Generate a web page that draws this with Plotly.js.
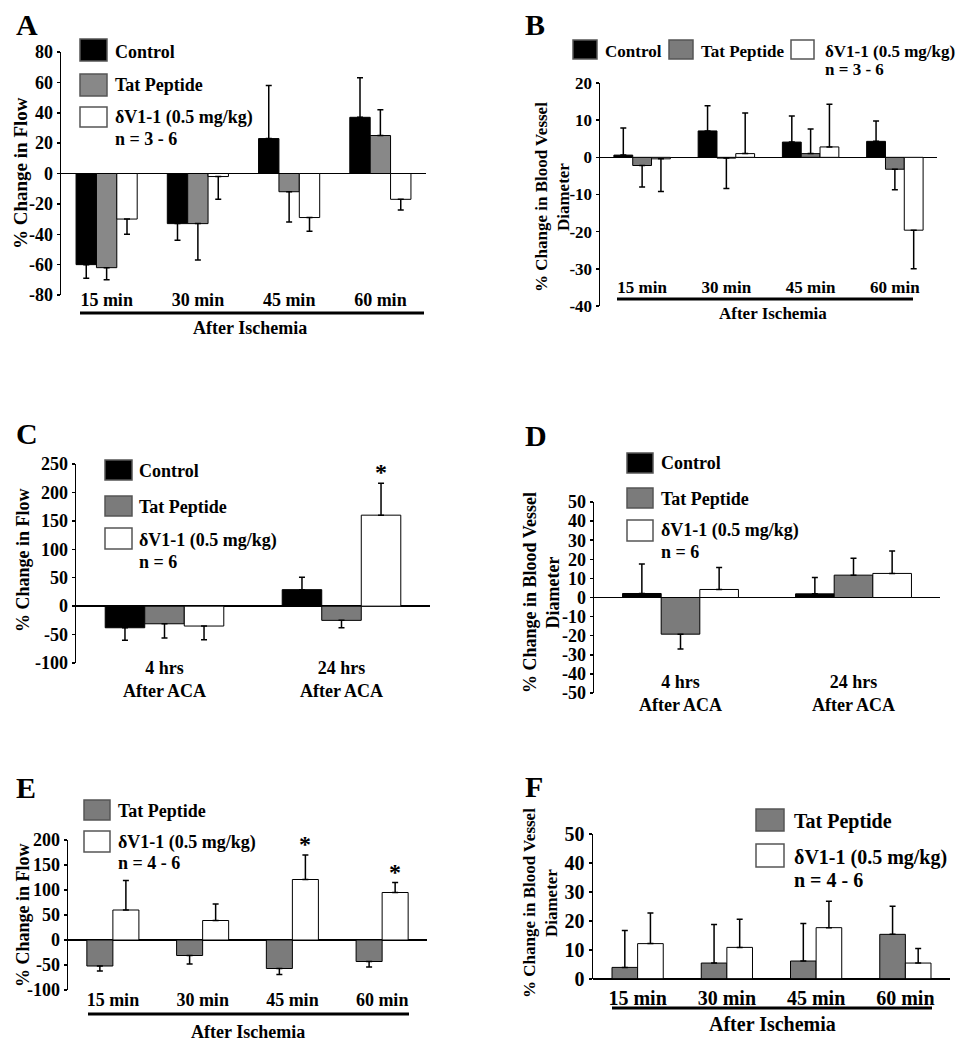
<!DOCTYPE html>
<html><head><meta charset="utf-8">
<script src="https://cdn.plot.ly/plotly-3.0.1.min.js"></script>
<style>body{margin:0;background:#fff}</style>
</head><body><div id="chart" style="width:968px;height:1050px"></div>
<script>
// ---------- DATA ----------
const minLabels = ['15 min', '30 min', '45 min', '60 min'];
const acaLabels = ['4 hrs<br>After ACA', '24 hrs<br>After ACA'];
const seriesNames = ['Control', 'Tat Peptide', 'δV1-1 (0.5 mg/kg)'];
const nTexts = ['n = 3 - 6', 'n = 3 - 6', 'n = 6', 'n = 6', 'n = 4 - 6', 'n = 4 - 6'];
const xTitle = 'After Ischemia';
const flowTitle = '% Change in Flow';
const diamTitle = '% Change in Blood Vessel<br>Diameter';

// Panel A: % change in flow after ischemia
const aControl = [-60, -33, 23, 37];
const aControlErr = [9, 11, 35, 26];
const aTat = [-62, -33, -12, 25];
const aTatErr = [8, 24, 20, 17];
const aDV = [-30, -2, -29, -17];
const aDVErr = [10, 15, 9, 7];
const aTicks = [-80, -60, -40, -20, 0, 20, 40, 60, 80];

// Panel B: % change in vessel diameter after ischemia
const bControl = [0.6, 7.1, 4.1, 4.3];
const bControlErr = [7.3, 6.8, 7.0, 5.5];
const bTat = [-2.2, -0.2, 1.0, -3.2];
const bTatErr = [5.8, 8.2, 6.6, 5.5];
const bDV = [-0.4, 1.0, 2.8, -19.6];
const bDVErr = [8.8, 10.9, 11.5, 10.4];
const bTicks = [-40, -30, -20, -10, 0, 10, 20];

// Panel C: % change in flow after ACA
const cControl = [-38, 29];
const cControlErr = [22, 22];
const cTat = [-31, -25];
const cTatErr = [25, 13];
const cDV = [-35, 160];
const cDVErr = [24, 56];
const cStars = ['', '*'];
const cTicks = [-100, -50, 0, 50, 100, 150, 200, 250];

// Panel D: % change in vessel diameter after ACA
const dControl = [2.1, 1.9];
const dControlErr = [15.4, 8.6];
const dTat = [-19.2, 11.7];
const dTatErr = [7.8, 8.9];
const dDV = [4.2, 12.6];
const dDVErr = [11.5, 11.7];
const dTicks = [-50, -40, -30, -20, -10, 0, 10, 20, 30, 40, 50];

// Panel E: % change in flow after ischemia
const eTat = [-52, -31, -57, -43];
const eTatErr = [10, 17, 12, 11];
const eDV = [60, 39, 121, 95];
const eDVErr = [59, 33, 49, 20];
const eStars = ['', '', '*', '*'];
const eTicks = [-100, -50, 0, 50, 100, 150, 200];

// Panel F: % change in vessel diameter after ischemia
const fTat = [4.0, 5.5, 6.2, 15.4];
const fTatErr = [12.7, 13.3, 12.9, 9.7];
const fDV = [12.2, 10.9, 17.7, 5.5];
const fDVErr = [10.6, 9.7, 9.1, 5.0];
const fTicks = [0, 10, 20, 30, 40, 50];

// ---------- STYLE / HELPERS ----------
const W = 968, H = 1050;
const FONT = 'Liberation Serif, Times New Roman, serif';
const px = x => x / W;
const py = y => 1 - y / H;
const BLACK = '#000000', WHITE = '#ffffff';
const GRAY_A = '#888888', GRAY = '#7b7b7b';

function errY(v, e) {
  return {
    type: 'data', symmetric: false, visible: true,
    array: v.map((x, i) => x >= 0 ? e[i] : 0),
    arrayminus: v.map((x, i) => x < 0 ? e[i] : 0),
    color: BLACK, thickness: 1.5, width: 3
  };
}
function bar(cats, v, e, color, name, xa, ya, extra) {
  return Object.assign({
    type: 'bar', x: cats, y: v, name: name, xaxis: xa, yaxis: ya,
    marker: { color: color, line: { color: BLACK, width: 1 } },
    error_y: errY(v, e), showlegend: false, hoverinfo: 'skip'
  }, extra || {});
}
function xAx(x0, x1, pos, cats, size) {
  return {
    domain: [px(x0), px(x1)], anchor: 'free', position: py(pos),
    type: 'category', categoryorder: 'array', categoryarray: cats,
    range: [-0.5, cats.length - 0.5],
    showline: false, showgrid: false, zeroline: false, ticks: '',
    tickfont: { family: FONT, size: size, color: BLACK, weight: 'bold' },
    fixedrange: true
  };
}
function yAx(top, bottom, range, ticks, xa, size) {
  return {
    domain: [py(bottom), py(top)], anchor: xa, range: range,
    tickmode: 'array', tickvals: ticks, ticktext: ticks.map(String),
    showline: true, linecolor: BLACK, linewidth: 1.5,
    ticks: 'outside', ticklen: 3, tickwidth: 1.5, tickcolor: BLACK,
    showgrid: false, zeroline: true, zerolinecolor: BLACK, zerolinewidth: 1.5,
    tickfont: { family: FONT, size: size, color: BLACK, weight: 'bold' },
    fixedrange: true
  };
}

const traces = [
  bar(minLabels, aControl, aControlErr, BLACK, seriesNames[0], 'x', 'y'),
  bar(minLabels, aTat, aTatErr, GRAY_A, seriesNames[1], 'x', 'y'),
  bar(minLabels, aDV, aDVErr, WHITE, seriesNames[2], 'x', 'y'),
  bar(minLabels, bControl, bControlErr, BLACK, seriesNames[0], 'x2', 'y2'),
  bar(minLabels, bTat, bTatErr, GRAY, seriesNames[1], 'x2', 'y2'),
  bar(minLabels, bDV, bDVErr, WHITE, seriesNames[2], 'x2', 'y2'),
  bar(acaLabels, cControl, cControlErr, BLACK, seriesNames[0], 'x3', 'y3'),
  bar(acaLabels, cTat, cTatErr, GRAY, seriesNames[1], 'x3', 'y3'),
  bar(acaLabels, cDV, cDVErr, WHITE, seriesNames[2], 'x3', 'y3'),
  bar(acaLabels, dControl, dControlErr, BLACK, seriesNames[0], 'x4', 'y4'),
  bar(acaLabels, dTat, dTatErr, GRAY, seriesNames[1], 'x4', 'y4'),
  bar(acaLabels, dDV, dDVErr, WHITE, seriesNames[2], 'x4', 'y4'),
  bar(minLabels, eTat, eTatErr, GRAY, seriesNames[1], 'x5', 'y5', { width: 0.29, offset: -0.29 }),
  bar(minLabels, eDV, eDVErr, WHITE, seriesNames[2], 'x5', 'y5', { width: 0.29, offset: 0 }),
  bar(minLabels, fTat, fTatErr, GRAY, seriesNames[1], 'x6', 'y6', { width: 0.287, offset: -0.287 }),
  bar(minLabels, fDV, fDVErr, WHITE, seriesNames[2], 'x6', 'y6', { width: 0.287, offset: 0 })
];

const shapes = [];
const annotations = [];
function txt(text, x, y, size, opts) {
  annotations.push(Object.assign({
    text: text, xref: 'paper', yref: 'paper', x: px(x), y: py(y),
    xanchor: 'left', yanchor: 'middle', showarrow: false,
    font: { family: FONT, size: size, color: BLACK, weight: 'bold' }
  }, opts || {}));
}
function swatch(x0, y0, x1, y1, color) {
  shapes.push({ type: 'rect', xref: 'paper', yref: 'paper',
    x0: px(x0), x1: px(x1), y0: py(y1), y1: py(y0),
    fillcolor: color, line: { color: '#555555', width: 1.5 } });
}
function hline(x0, x1, y, w) {
  shapes.push({ type: 'line', xref: 'paper', yref: 'paper',
    x0: px(x0), x1: px(x1), y0: py(y), y1: py(y), line: { color: BLACK, width: w } });
}
function letter(t, x, y) { txt(t, x, y, 30, { xanchor: 'center' }); }
function ytitle(t, x, y, size) { txt(t, x, y, size, { xanchor: 'center', textangle: -90, align: 'center' }); }

// Panel letters
letter('A', 27, 24); letter('B', 535, 24); letter('C', 27, 433);
letter('D', 536, 435); letter('E', 26, 787); letter('F', 534, 786);

// Y titles
ytitle(flowTitle, 20, 173, 19);
ytitle(diamTitle, 553, 197, 17);
ytitle(flowTitle, 23, 560, 18);
ytitle(diamTitle, 541, 593, 18);
ytitle(flowTitle, 23, 915, 18);
ytitle(diamTitle, 540, 903, 17);

// "After Ischemia" underlines + labels
hline(80, 424, 313, 3); txt(xTitle, 250, 328, 18, { xanchor: 'center' });
hline(617, 913, 299, 3); txt(xTitle, 773, 314, 17, { xanchor: 'center' });
hline(88, 409, 1014, 3); txt(xTitle, 248, 1032, 18, { xanchor: 'center' });
hline(612, 932, 1008, 3); txt(xTitle, 772, 1024, 20, { xanchor: 'center' });

// F zero baseline
shapes.push({ type: 'line', xref: 'x6 domain', yref: 'y6', x0: 0, x1: 1, y0: 0, y1: 0,
  line: { color: BLACK, width: 1.5 } });

// Legends
// A
swatch(80, 39, 107, 61, BLACK); swatch(80, 74, 107, 96, GRAY_A); swatch(80, 107, 107, 127, WHITE);
txt(seriesNames[0], 113, 52, 18); txt(seriesNames[1], 113, 85, 18); txt(seriesNames[2], 113, 118, 18);
txt(nTexts[0], 113, 139, 18);
// B
swatch(573, 40, 597, 59, BLACK); swatch(669, 40, 693, 59, GRAY); swatch(791, 40, 814, 59, WHITE);
txt(seriesNames[0], 603, 51, 17); txt(seriesNames[1], 699, 51, 17); txt(seriesNames[2], 823, 51, 17);
txt(nTexts[1], 823, 70, 17);
// C
swatch(105, 460, 132, 480, BLACK); swatch(105, 496, 132, 516, GRAY); swatch(105, 528, 132, 549, WHITE);
txt(seriesNames[0], 137, 471, 18); txt(seriesNames[1], 137, 507, 18); txt(seriesNames[2], 137, 540, 18);
txt(nTexts[2], 137, 562, 18);
// D
swatch(627, 453, 653, 473, BLACK); swatch(627, 488, 653, 508, GRAY); swatch(627, 520, 653, 541, WHITE);
txt(seriesNames[0], 659, 463, 18); txt(seriesNames[1], 659, 499, 18); txt(seriesNames[2], 659, 530, 18);
txt(nTexts[3], 659, 552, 18);
// E
swatch(84, 800, 110, 820, GRAY); swatch(84, 831, 110, 852, WHITE);
txt(seriesNames[1], 116, 811, 18); txt(seriesNames[2], 116, 842, 18); txt(nTexts[4], 116, 863, 18);
// F
swatch(756, 809, 784, 831, GRAY); swatch(756, 844, 784, 867, WHITE);
txt(seriesNames[1], 792, 821, 20); txt(seriesNames[2], 792, 857, 20); txt(nTexts[5], 792, 880, 20);

// Significance stars (above white bars' error bars)
cStars.forEach((s, i) => { if (s) annotations.push({ text: s, xref: 'x3', yref: 'y3',
  x: i + 0.222, y: cDV[i] + cDVErr[i], xanchor: 'center', yanchor: 'bottom', yshift: -4, showarrow: false,
  font: { family: FONT, size: 24, color: BLACK, weight: 'bold' } }); });
eStars.forEach((s, i) => { if (s) annotations.push({ text: s, xref: 'x5', yref: 'y5',
  x: i + 0.145, y: eDV[i] + eDVErr[i], xanchor: 'center', yanchor: 'bottom', yshift: -4, showarrow: false,
  font: { family: FONT, size: 24, color: BLACK, weight: 'bold' } }); });

const layout = {
  width: W, height: H, margin: { l: 0, r: 0, t: 0, b: 0 },
  paper_bgcolor: WHITE, plot_bgcolor: 'rgba(0,0,0,0)',
  showlegend: false, barmode: 'group', bargap: 0.33, bargroupgap: 0,
  font: { family: FONT, color: BLACK },
  xaxis:  xAx(61, 426, 287, minLabels, 18),
  yaxis:  yAx(52, 295, [-80, 80], aTicks, 'x', 18),
  xaxis2: xAx(600, 937, 275, minLabels, 17),
  yaxis2: yAx(83, 306, [-40, 20], bTicks, 'x2', 17),
  xaxis3: xAx(76, 430, 655, acaLabels, 18),
  yaxis3: yAx(464, 663, [-100, 250], cTicks, 'x3', 18),
  xaxis4: xAx(594, 940, 669, acaLabels, 18),
  yaxis4: yAx(502, 693, [-50, 50], dTicks, 'x4', 18),
  xaxis5: xAx(68, 427, 987, minLabels, 18),
  yaxis5: yAx(840, 990, [-100, 200], eTicks, 'x5', 18),
  xaxis6: xAx(593, 950, 984, minLabels, 20),
  yaxis6: yAx(834, 979, [0, 50], fTicks, 'x6', 20),
  shapes: shapes, annotations: annotations
};

Plotly.newPlot('chart', traces, layout, { displayModeBar: false, staticPlot: true });
</script>
</body></html>
